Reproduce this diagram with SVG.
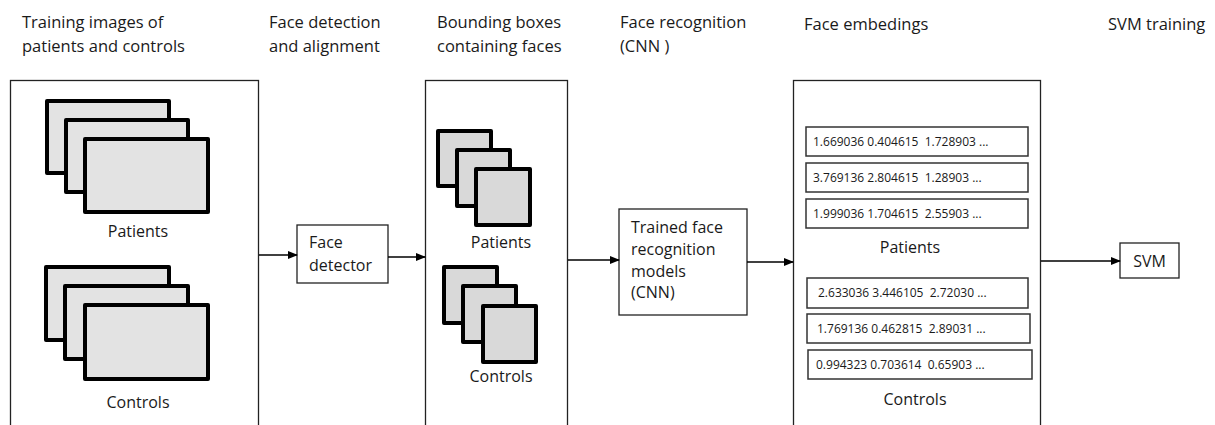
<svg xmlns="http://www.w3.org/2000/svg" width="1215" height="425" viewBox="0 0 1215 425">
<defs>
<marker id="ah" markerWidth="10" markerHeight="8" refX="9" refY="4" orient="auto" markerUnits="userSpaceOnUse">
<path d="M0,0 L10,4 L0,8 Z" fill="#000"/>
</marker>
</defs>
<style>
text{font-family:"Open Sans","Noto Sans","DejaVu Sans",sans-serif;fill:#1a1a1a;}
.hd{font-size:16.5px;}
.lb{font-size:16px;}
.num{font-size:12px;white-space:pre;}
.box{fill:#fff;stroke:#222;stroke-width:1.3;}
.card{fill:#e3e3e3;stroke:#000;stroke-width:4;stroke-linejoin:round;}
.sq{fill:#d9d9d9;stroke:#000;stroke-width:4;stroke-linejoin:round;}
.row{fill:#fff;stroke:#333;stroke-width:1.5;}
.edge{stroke:#000;stroke-width:1.3;fill:none;marker-end:url(#ah);}
</style>
<rect width="1215" height="425" fill="#fff"/>

<g id="headers">
<text class="hd" x="22" y="28">Training images of</text>
<text class="hd" x="22" y="52">patients and controls</text>
<text class="hd" x="269" y="28">Face detection</text>
<text class="hd" x="269" y="52">and alignment</text>
<text class="hd" x="437" y="28">Bounding boxes</text>
<text class="hd" x="437" y="52">containing faces</text>
<text class="hd" x="620" y="28">Face recognition</text>
<text class="hd" x="620" y="52">(CNN )</text>
<text class="hd" x="804" y="30">Face embedings</text>
<text class="hd" x="1108" y="30">SVM training</text>
</g>

<g id="training-images">
<rect class="box" x="10.5" y="80.5" width="248" height="360"/>
<rect class="card" x="47" y="101" width="122" height="72"/>
<rect class="card" x="66" y="120" width="122" height="72"/>
<rect class="card" x="85" y="139" width="123" height="73"/>
<text class="lb" x="138" y="237" text-anchor="middle">Patients</text>
<rect class="card" x="46" y="267" width="123" height="73"/>
<rect class="card" x="65" y="286" width="123" height="73"/>
<rect class="card" x="85" y="305" width="123" height="74"/>
<text class="lb" x="138" y="408" text-anchor="middle">Controls</text>
</g>

<g id="face-detector">
<rect class="box" x="297" y="225" width="91" height="58"/>
<text class="lb" x="309" y="248">Face</text>
<text class="lb" x="309" y="271">detector</text>
</g>

<g id="bounding-boxes">
<rect class="box" x="425.5" y="80.5" width="142" height="360"/>
<rect class="sq" x="438" y="131" width="53" height="55"/>
<rect class="sq" x="457" y="150" width="53" height="56"/>
<rect class="sq" x="476" y="169" width="54" height="56"/>
<text class="lb" x="501" y="248" text-anchor="middle">Patients</text>
<rect class="sq" x="444" y="267" width="53" height="56"/>
<rect class="sq" x="463" y="286" width="53" height="56"/>
<rect class="sq" x="483" y="306" width="53" height="56"/>
<text class="lb" x="501" y="382" text-anchor="middle">Controls</text>
</g>

<g id="cnn-model">
<rect class="box" x="619" y="209" width="128" height="106"/>
<text class="lb" x="631" y="233">Trained face</text>
<text class="lb" x="631" y="255">recognition</text>
<text class="lb" x="631" y="277">models</text>
<text class="lb" x="631" y="298">(CNN)</text>
</g>

<g id="embeddings">
<rect class="box" x="793.5" y="80.5" width="247" height="360"/>
<rect class="row" x="806" y="127" width="222" height="29"/>
<text class="num" x="813" y="146" xml:space="preserve">1.669036 0.404615  1.728903 ...</text>
<rect class="row" x="806" y="163" width="222" height="29"/>
<text class="num" x="813" y="182" xml:space="preserve">3.769136 2.804615  1.28903 ...</text>
<rect class="row" x="806" y="199" width="222" height="29"/>
<text class="num" x="813" y="218" xml:space="preserve">1.999036 1.704615  2.55903 ...</text>
<text class="lb" x="910" y="253" text-anchor="middle">Patients</text>
<rect class="row" x="807" y="278" width="221" height="30"/>
<text class="num" x="818" y="297" xml:space="preserve">2.633036 3.446105  2.72030 ...</text>
<rect class="row" x="807" y="314" width="223" height="29"/>
<text class="num" x="817" y="333" xml:space="preserve">1.769136 0.462815  2.89031 ...</text>
<rect class="row" x="808" y="350" width="224" height="29"/>
<text class="num" x="816" y="369" xml:space="preserve">0.994323 0.703614  0.65903 ...</text>
<text class="lb" x="915" y="405" text-anchor="middle">Controls</text>
</g>

<g id="svm">
<rect class="box" x="1120" y="243" width="59" height="35"/>
<text class="lb" x="1149.5" y="267" text-anchor="middle">SVM</text>
</g>

<g id="connectors">
<line class="edge" x1="259" y1="255" x2="297" y2="255"/>
<line class="edge" x1="388" y1="257" x2="425" y2="257"/>
<line class="edge" x1="568" y1="260" x2="619" y2="260"/>
<line class="edge" x1="747" y1="262" x2="793" y2="262"/>
<line class="edge" x1="1041" y1="261" x2="1120" y2="261"/>
</g>
</svg>
